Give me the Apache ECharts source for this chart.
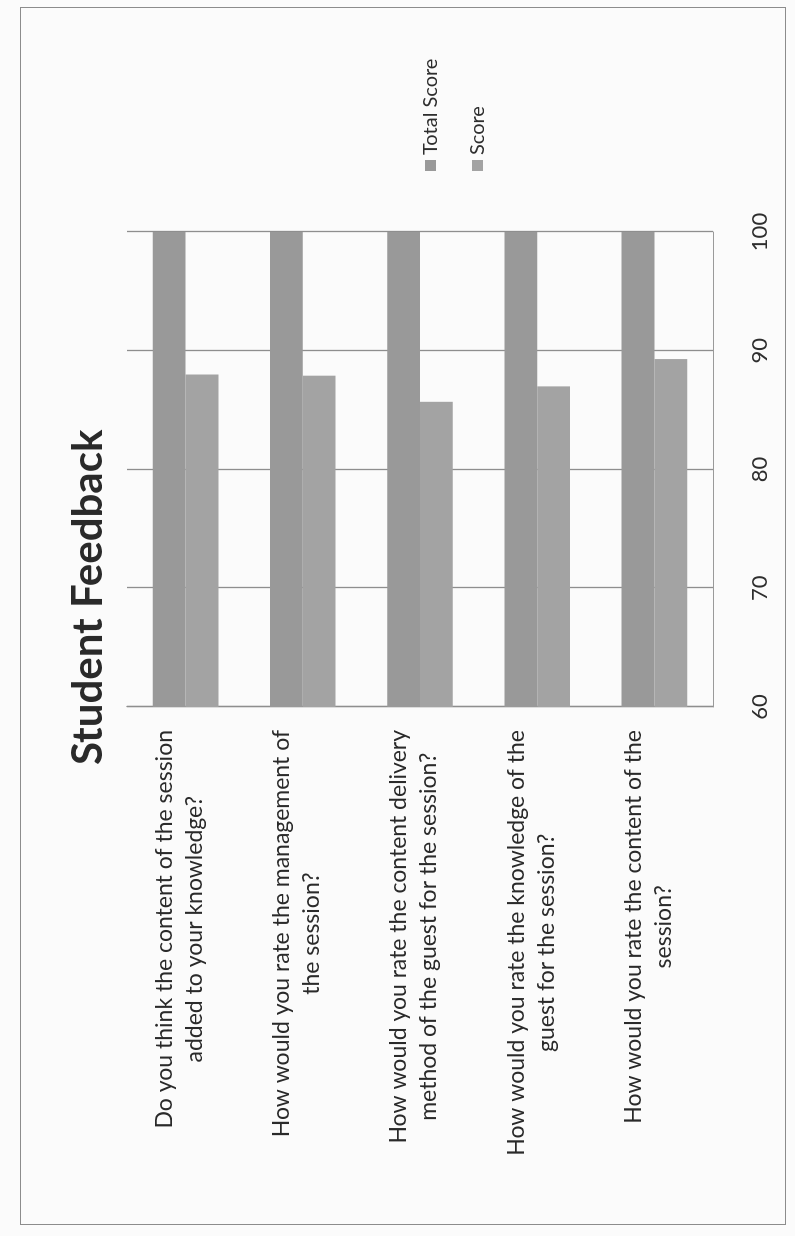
<!DOCTYPE html>
<html>
<head>
<meta charset="utf-8">
<script src="https://cdn.jsdelivr.net/npm/echarts@6/dist/echarts.min.js"></script>
<style>
  html, body { margin: 0; padding: 0; background: #fbfbfb; overflow: hidden; }
  /* the scanned page is turned a quarter turn counter-clockwise */
  #page {
    position: absolute; left: 0; top: 0;
    width: 1236px; height: 795px;
    transform-origin: 0 0;
    transform: translate(0, 1236px) rotate(-90deg);
  }
  #frame {
    position: absolute; left: 11px; top: 20px;
    width: 1216px; height: 764px;
    border: 1px solid #8c8c8c;
  }
  #chart { position: absolute; left: 0; top: 0; width: 1236px; height: 795px; }
</style>
</head>
<body>
<div id="page">
  <div id="frame"></div>
  <div id="chart"></div>
</div>
<script>
const chartTitle = 'Student Feedback'
const seriesNames = ['Total Score', 'Score']
const questions = [
  'Do you think the content of the session\nadded to your knowledge?',
  'How would you rate the management of\nthe session?',
  'How would you rate the content delivery\nmethod of the guest for the session?',
  'How would you rate the knowledge of the\nguest for the session?',
  'How would you rate the content of the\nsession?'
]
const totalScore = [100, 100, 100, 100, 100]
const score = [88, 87.9, 85.7, 87, 89.3]
const axisMin = 60
const axisMax = 100
const axisStep = 10

const font = 'Lato, "Open Sans", sans-serif'
const chart = echarts.init(document.getElementById('chart'))

// each line centred inside the block, block pushed to the axis
const centredLines = (v) => v.split('\n').map(l => '{c|' + l + '}').join('\n')

chart.setOption({
  backgroundColor: 'rgba(0,0,0,0)',
  animation: false,
  title: {
    text: chartTitle,
    left: 466,
    top: 62,
    textStyle: { fontFamily: font, fontWeight: 'bold', fontSize: 42, color: '#2a2a2a' }
  },
  legend: {
    orient: 'vertical',
    left: 1060,
    top: 413,
    icon: 'rect',
    itemWidth: 11,
    itemHeight: 11,
    itemGap: 22,
    data: seriesNames,
    textStyle: { fontFamily: font, fontSize: 20, lineHeight: 25, color: '#2e2e2e' }
  },
  grid: { left: 529, right: 232, top: 127, bottom: 82 },
  xAxis: {
    type: 'value',
    min: axisMin,
    max: axisMax,
    interval: axisStep,
    axisLine: { show: true, lineStyle: { color: '#9a9a9a' } },
    axisTick: { show: false },
    splitLine: { lineStyle: { color: '#8e8e8e', width: 1.3 } },
    axisLabel: { margin: 36, fontFamily: font, fontSize: 22, color: '#2e2e2e' }
  },
  yAxis: {
    type: 'category',
    inverse: true,
    data: questions,
    axisLine: { show: true, lineStyle: { color: '#8e8e8e', width: 1.3 } },
    axisTick: { show: false },
    axisLabel: {
      margin: 23,
      padding: [0, 0, 12, 0],
      formatter: centredLines,
      rich: {
        c: { align: 'center', fontFamily: font, fontSize: 23, lineHeight: 30, color: '#2a2a2a' }
      }
    }
  },
  series: [
    {
      name: seriesNames[0],
      type: 'bar',
      data: totalScore,
      barGap: 0,
      barCategoryGap: '44%',
      itemStyle: { color: '#999999' }
    },
    {
      name: seriesNames[1],
      type: 'bar',
      data: score,
      barGap: 0,
      barCategoryGap: '44%',
      itemStyle: { color: '#a3a3a3' }
    }
  ]
})
</script>
</body>
</html>
